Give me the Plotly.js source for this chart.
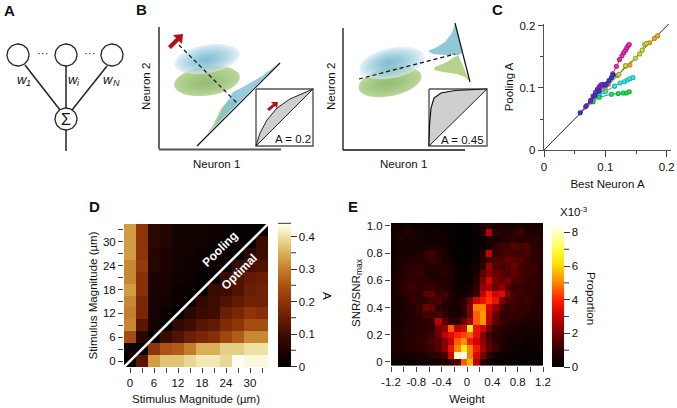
<!DOCTYPE html>
<html><head><meta charset="utf-8">
<script src="https://cdn.plot.ly/plotly-3.0.1.min.js"></script>
<style>html,body{margin:0;padding:0;background:#fff}#g{width:677px;height:408px}</style></head>
<body><div id="g"></div>
<script>
const W=677,H=408,FONT='"Liberation Sans",Arial,sans-serif';
// ---- Panel C
const cOrangeX=[.08,.10,.12,.133,.14,.172,.18,.185];
const cOrangeY=[.08,.10,.12,.135,.137,.173,.180,.184];
const cOliveX=[.078,.09,.105,.122,.133,.149,.156,.160,.164,.167];
const cOliveY=[.08,.09,.106,.122,.136,.148,.155,.161,.170,.172];
const cCyanX=[.076,.09,.1,.115,.124,.131,.136,.14,.145];
const cCyanY=[.078,.088,.094,.103,.108,.110,.113,.115,.117];
const cGreenX=[.07,.08,.09,.11,.121,.129,.134,.139];
const cGreenY=[.072,.078,.085,.09,.091,.092,.092,.094];
const cMagentaX=[.076,.103,.112,.118,.123,.127,.130,.133,.135,.137,.139];
const cMagentaY=[.078,.107,.123,.135,.146,.152,.157,.161,.165,.168,.170];
const cBlueX=[.059,.083,.09,.1,.106,.11,.113];
const cBlueY=[.06,.088,.095,.105,.112,.117,.121];
const cPurpleX=[.068,.076,.08,.084,.087,.09,.093,.096];
const cPurpleY=[.07,.08,.087,.093,.098,.102,.105,.106];
const cDiagonal=[0,.207];
// ---- Panel D
const dTicks=[0,3,6,9,12,15,18,21,24,27,30,33];
const dValues=[
[0,.13,.33,.37,.37,.39,.41,.41,.39,.44,.43,.43],
[.03,0,.20,.25,.26,.30,.35,.35,.38,.38,.40,.40],
[.24,.07,0,.09,.12,.15,.17,.19,.23,.26,.31,.31],
[.31,.13,.03,0,.08,.10,.13,.14,.18,.20,.24,.24],
[.30,.17,.04,.02,0,.07,.09,.10,.15,.17,.20,.19],
[.31,.17,.04,.035,.02,0,.08,.10,.12,.14,.16,.16],
[.33,.19,.05,.04,.015,.015,0,.09,.10,.12,.15,.16],
[.31,.19,.05,.04,.025,.02,.01,0,.09,.12,.14,.15],
[.31,.21,.06,.05,.03,.025,.02,.015,0,.09,.11,.12],
[.33,.20,.06,.05,.03,.03,.02,.015,.015,0,.07,.10],
[.33,.20,.07,.06,.03,.03,.03,.02,.015,.015,0,.09],
[.33,.20,.07,.06,.03,.03,.03,.02,.02,.01,.01,0]];
const dBarLabels=[0,.1,.2,.3,.4];
const dBarMinor=[.05,.15,.25,.35];
// ---- Panel E
const eWeights=[-1.15,-1.05,-.95,-.85,-.75,-.65,-.55,-.45,-.35,-.25,-.15,-.05,.05,.15,.25,.35,.45,.55,.65,.75,.85,.95,1.05,1.15];
const eSnr=[0,.05,.1,.15,.2,.25,.3,.35,.4,.45,.5,.55,.6,.65,.7,.75,.8,.85,.9,.95,1];
const eValues=[
[.2,.2,.2,.2,.3,.3,.3,.4,.6,1.0,1.6,4.6,5.6,2.8,.9,.4,.2,.2,.1,.1,.1,.1,.1,.2],
[.5,.4,.4,.5,.6,.6,.9,1.0,1.3,3.2,8.0,8.4,5.0,3.3,2.0,1.0,.4,.3,.2,.2,.2,.1,.2,.2],
[.5,.6,.7,.8,.9,1.0,1.2,1.6,2.2,3.6,5.0,6.4,5.0,3.8,2.6,1.6,1.2,.5,.4,.3,.3,.2,.3,.3],
[.5,.6,.7,.9,1.0,1.1,1.4,1.6,2.2,3.1,4.6,5.2,3.8,3.2,2.3,1.5,.9,.8,.5,.4,.4,.3,.3,.4],
[.6,.6,.8,.7,.9,1.0,1.2,1.8,3.0,3.4,4.0,4.3,4.7,3.6,2.2,1.2,.9,.8,.6,.5,.5,.4,.4,.4],
[.5,.6,.7,.8,.9,.9,1.0,2.0,2.4,4.6,2.8,3.2,6.3,3.6,3.2,1.9,1.1,.8,.8,.6,.5,.5,.4,.5],
[.4,.6,.7,.7,.9,.8,1.1,2.9,1.5,1.0,1.0,1.8,2.6,4.6,5.2,2.8,1.6,1.2,1.0,.9,.7,.6,.6,.7],
[.4,.5,.6,.8,1.0,1.4,1.2,1.3,1.0,.6,.5,.9,2.0,4.6,5.3,3.0,1.8,1.0,1.1,1.0,1.1,.8,.7,.8],
[.5,.6,.8,.6,1.1,1.8,1.7,1.0,.7,.5,.4,1.0,2.2,5.0,5.0,3.2,2.4,1.4,1.0,1.2,1.0,1.1,.9,.8],
[.4,.5,.8,1.1,.9,.9,1.3,1.4,.9,.7,.5,.8,1.8,3.2,3.6,4.2,3.6,2.0,1.4,1.3,1.0,1.2,.9,.8],
[.5,.8,1.0,.9,1.0,1.6,1.7,1.1,1.3,.8,.3,.3,.5,1.2,3.0,4.0,3.2,3.4,2.0,1.3,1.2,1.1,1.0,1.0],
[.6,.8,1.1,1.2,1.0,1.1,1.1,.9,.8,.6,.3,.2,.4,1.0,2.4,2.6,1.8,2.4,1.6,1.0,1.2,1.0,1.1,1.0],
[.6,.7,1.0,1.1,.9,1.0,.8,.7,.7,.5,.2,.2,.2,.8,2.0,3.2,2.0,1.8,2.0,1.4,1.3,1.1,1.0,.9],
[.4,.7,.9,1.0,1.1,.8,.6,.7,.9,.6,.3,.2,.2,.6,1.6,2.2,1.8,1.6,1.4,1.6,1.3,1.2,1.1,1.0],
[.4,.6,.9,.8,1.0,.7,.7,.8,.8,.5,.2,.1,.2,.5,1.0,2.4,1.6,1.3,1.5,1.8,1.3,1.2,1.2,.9],
[.3,.6,.7,.8,.6,.9,1.2,1.0,.5,.4,.1,.1,.1,.3,.9,1.2,1.4,1.4,1.7,1.5,1.5,1.1,1.0,.9],
[.3,.4,.5,.5,.7,1.0,1.3,.8,.5,.3,.1,.1,.1,.2,.8,3.0,1.0,1.2,1.4,1.3,1.2,1.4,1.0,.9],
[.3,.4,.4,.5,.4,.5,.6,.5,.4,.2,.1,.1,.1,.1,.2,.4,.9,1.3,1.2,1.5,1.3,1.4,1.0,.8],
[.3,.6,.5,.5,.4,.4,.3,.4,.3,.2,.1,.1,.1,.2,.3,.6,.6,.7,.8,1.0,.8,.8,.9,.8],
[.3,.5,.8,.5,.4,.3,.4,.4,.3,.2,.1,.1,.1,.2,.7,2.8,.9,.7,.7,1.0,1.2,.7,.6,.7],
[.2,.3,.5,.3,.3,.2,.3,.2,.2,.2,.1,.1,.1,.3,.8,.9,.6,.6,.4,.5,.7,.4,.5,.4]];
const eBarLabels=[0,2,4,6,8];
const eBarMinor=[1,3,5,7];
// ---- Schematics (A, B): page-scale geometry
const netCircles=[[18,55],[66,55],[112,55],[66,119]];
const netLines=[[[25,65],[60,110]],[[66,66],[66,108]],[[107,66],[72,110]],[[66,130],[66,151]]];
const blobs=[[207,81,33,14.5,-8,'175,208,140','105,150,55',.9,.032,205,83],[207,59,33,14,-10,'212,232,242','65,160,195',.7,.062,206,60],
             [390,82,32,14,-12,'175,208,140','105,150,55',.9,.032,386,84],[392,63,33,15,-12,'212,232,242','65,160,195',.7,.062,389,63]];
const wedgeBlueL=[[208,133],[215,125],[222,110],[227,102],[233,92],[243,87],[253,81],[262,76],[270,70],[279,63]];
const wedgeGreenL=[[206,135],[212,127],[217,117],[222,107],[227,102],[232,100],[237,103]];
const wedgeBlueR=[[455,23],[452,33],[445,42],[437,47],[428,51],[433,54],[445,55],[458,55],[462,53]];
const wedgeGreenR=[[458,55],[447,62],[435,67],[434,70],[443,72],[457,74],[465,77],[470,82]];
const rocLeft=[[256,146],[260,133],[267,120],[277,108],[290,99],[303,93],[313,89]];
const rocRight=[[429,146],[429.5,125],[431,108],[434,98],[441,93],[455,90.5],[487,89]];
const arrowBig=[[168,46],[176,38],[173,35],[183,34],[182,44],[179,41],[171,49]];
const arrowSmall=[[267,109],[273,104],[271,102],[278,102],[277,108],[275,106],[269,111]];

const traces=[];
const line=(pts,color,width,dash)=>traces.push({x:pts.map(p=>p[0]),y:pts.map(p=>p[1]),mode:'lines',line:{color,width,dash:dash||'solid'},hoverinfo:'skip',showlegend:false});
const poly=(pts,fill,lc,lw)=>traces.push({x:pts.map(p=>p[0]),y:pts.map(p=>p[1]),mode:'lines',fill:'toself',fillcolor:fill,line:{color:lc||'rgba(0,0,0,0)',width:lw||0},hoverinfo:'skip',showlegend:false});
const ring=(cx,cy,r)=>{const p=[];for(let i=0;i<=48;i++){const t=i/48*2*Math.PI;p.push([cx+r*Math.cos(t),cy+r*Math.sin(t)]);}return p;};

// Gaussian-looking blobs: stacked translucent ellipses
const shapes=[];
blobs.forEach(b=>{
  const [cx,cy,a,bb,rot,edge,core,ea,ca,ccx,ccy]=b,N=14,th=rot*Math.PI/180;
  for(let k=0;k<N;k++){
    const s=1-k/N, ox=cx+(ccx-cx)*(1-s), oy=cy+(ccy-cy)*(1-s);
    let d='';
    for(let i=0;i<=40;i++){const t=i/40*2*Math.PI,u=a*s*Math.cos(t),v=bb*s*Math.sin(t);
      d+=(i?'L':'M')+(ox+u*Math.cos(th)-v*Math.sin(th)).toFixed(1)+','+(oy+u*Math.sin(th)+v*Math.cos(th)).toFixed(1);}
    shapes.push({type:'path',path:d+'Z',xref:'x',yref:'y',layer:'below',line:{width:0},fillcolor:k===0?`rgba(${edge},${ea})`:`rgba(${core},${ca})`});
  }
});

// Panel A
netLines.forEach(l=>line(l,'#222',1.5));
netCircles.forEach(c=>poly(ring(c[0],c[1],11),'#fff','#222',1.3));
// Panel B left
line([[159,27],[159,149]],'#111',1.3);
line([[159,149.5],[281,149.5]],'#555',2);
poly(wedgeGreenL,'rgba(175,205,125,.85)');
poly(wedgeBlueL,'rgba(125,190,210,.8)');
line([[197,146],[280,63]],'#111',1.2);
line([[179,45],[237,103]],'#111',1.2,'4px,3px');
poly(arrowBig,'#b01015');
poly([[256,89],[313,89],[313,146],[256,146],[256,89]],'#fff','#555',1.4);
poly(rocLeft,'#cfcfcf','#222',1);
line([[256,146],[313,89]],'#222',1);
poly(arrowSmall,'#b01015');
// Panel B right
line([[343,28],[343,150]],'#111',1.3);
line([[343,150],[465,150]],'#111',1.3);
poly(wedgeGreenR,'rgba(175,205,125,.9)');
poly(wedgeBlueR,'rgba(125,190,210,.85)');
line([[455,23],[470,82]],'#111',1.2);
line([[359,79],[455,54]],'#111',1.2,'4px,3px');
poly([[429,89],[487,89],[487,146],[429,146],[429,89]],'#fff','#555',1.4);
poly(rocRight,'#cfcfcf','#111',1.2);
line([[429,146],[487,89]],'#222',1);

// Panel C
const cs=(x,y,color,edge)=>traces.push({x,y,xaxis:'x2',yaxis:'y2',mode:'lines+markers',line:{color:edge,width:1},
  marker:{color,size:4,line:{color:edge,width:1.1}},showlegend:false,hoverinfo:'skip',cliponaxis:false});
traces.push({x:cDiagonal,y:cDiagonal,xaxis:'x2',yaxis:'y2',mode:'lines',line:{color:'#222',width:1},showlegend:false,hoverinfo:'skip'});
cs(cOrangeX,cOrangeY,'#e8aa40','#c98a10');
cs(cOliveX,cOliveY,'#d8dc70','#9aa81a');
cs(cCyanX,cCyanY,'#50e0e0','#12b8c0');
cs(cGreenX,cGreenY,'#30d860','#10b040');
cs(cMagentaX,cMagentaY,'#e03ab0','#c01890');
cs(cPurpleX,cPurpleY,'#8a28c8','#7018b0');
cs(cBlueX,cBlueY,'#3040c0','#2030b0');

// Panel D
const barFont={size:11.5,family:FONT,color:'#111'};
traces.push({type:'heatmap',x:dTicks,y:dTicks,z:dValues,xaxis:'x3',yaxis:'y3',zmin:0,zmax:.44,zsmooth:false,hoverinfo:'skip',
 colorscale:[[0,'#000'],[.11,'#1c0300'],[.23,'#3f0c00'],[.35,'#6d1f04'],[.46,'#8f3508'],[.57,'#ab5312'],[.68,'#c47d2a'],[.78,'#d6a94f'],[.88,'#e8d68c'],[.95,'#f6f0c4'],[1,'#fffff4']],
 colorbar:{x:278/W,xanchor:'left',y:(H-366.5)/H,yanchor:'bottom',lenmode:'pixels',len:143,thicknessmode:'pixels',thickness:13,xpad:0,ypad:0,outlinewidth:0,
  tickmode:'array',tickvals:dBarLabels,ticktext:dBarLabels.map(String),ticks:'outside',ticklen:6,tickcolor:'#333',tickfont:barFont}});
traces.push({x:[-1.5,34.5],y:[-1.5,34.5],xaxis:'x3',yaxis:'y3',mode:'lines',line:{color:'#fff',width:2.5},showlegend:false,hoverinfo:'skip'});
line([[278,223.3],[291,223.3]],'#333',1);
dBarMinor.forEach(v=>line([[291,366.5-v/.44*143],[296,366.5-v/.44*143]],'#333',1));

// Panel E
traces.push({type:'heatmap',x:eWeights,y:eSnr,z:eValues,xaxis:'x4',yaxis:'y4',zmin:0,zmax:8.5,zsmooth:false,hoverinfo:'skip',
 colorscale:[[0,'#000'],[.12,'#300000'],[.24,'#7a0000'],[.36,'#c80000'],[.47,'#ff2000'],[.6,'#ff8c00'],[.72,'#ffe000'],[.82,'#ffff40'],[.92,'#ffffb0'],[1,'#fff']],
 colorbar:{x:552/W,xanchor:'left',y:(H-367)/H,yanchor:'bottom',lenmode:'pixels',len:143,thicknessmode:'pixels',thickness:12,xpad:0,ypad:0,outlinewidth:0,
  tickmode:'array',tickvals:eBarLabels,ticktext:eBarLabels.map(String),ticks:'outside',ticklen:6,tickcolor:'#333',tickfont:barFont}});
eBarMinor.forEach(v=>line([[564,367-v/8.5*143],[569,367-v/8.5*143]],'#333',1));

const ann=(text,x,y,o)=>Object.assign({text,x,y,xref:'x',yref:'y',showarrow:false,xanchor:'center',yanchor:'middle',font:{family:FONT,size:11.5,color:'#111'}},o||{});
const big={font:{family:FONT,size:15,color:'#111',weight:700}};
const it={font:{family:FONT,size:13,color:'#111',style:'italic'}};
const itSub={font:{family:FONT,size:9,color:'#111',style:'italic'}};
const small={font:{family:FONT,size:8,color:'#111'}};
const annotations=[
 ann('A',9,10,big),ann('B',141,9,big),ann('C',497,9,big),ann('D',94,206,big),ann('E',353,206,big),
 ann('···',43,53),ann('···',90,53),ann('Σ',66,119,{font:{family:FONT,size:16,color:'#111'}}),
 ann('w',22,79,it),ann('1',28,83,itSub),ann('w',73,79,it),ann('i',78,83,itSub),ann('w',108,79,it),ann('N',116,83,itSub),
 ann('Neuron 2',146,87,{textangle:-90}),ann('Neuron 1',216,164),ann('A = 0.2',293,139),
 ann('Neuron 2',331,87,{textangle:-90}),ann('Neuron 1',403,164),ann('A = 0.45',462,140),
 ann('Pooling',220,249,{textangle:-45,font:{family:FONT,size:12,color:'#fff',weight:700}}),
 ann('Optimal',239,272,{textangle:-45,font:{family:FONT,size:12,color:'#fff',weight:700}}),
 ann('A',327,296,{textangle:90}),
 ann('Proportion',591,298,{textangle:90}),
 ann('X10',570,212),ann('-3',584,209,small),
 ann('SNR/SNR',356,301,{textangle:-90}),ann('max',359,267,{textangle:-90,font:{family:FONT,size:8.5,color:'#111'}}),
];
const tf={family:FONT,size:11.5,color:'#111'};
const ax=(domL,domR,range,o)=>Object.assign({domain:[domL/W,domR/W],range,showgrid:false,zeroline:false,showline:true,linecolor:'#555',linewidth:1.3,ticks:'outside',ticklen:5,tickcolor:'#444',tickfont:tf,tickwidth:1},o);
const ay=(top,bot,range,o)=>Object.assign({domain:[(H-bot)/H,(H-top)/H],range,showgrid:false,zeroline:false,showline:true,linecolor:'#555',linewidth:1.3,ticks:'outside',ticklen:5,tickcolor:'#444',tickfont:tf,tickwidth:1},o);
const layout={width:W,height:H,margin:{l:0,r:0,t:0,b:0},paper_bgcolor:'#fff',plot_bgcolor:'rgba(0,0,0,0)',font:{family:FONT,size:11.5,color:'#111'},showlegend:false,
 xaxis:{domain:[0,1],range:[0,W],visible:false,fixedrange:true},
 yaxis:{domain:[0,1],range:[H,0],visible:false,fixedrange:true},
 xaxis2:ax(544,671,[0,.207],{anchor:'y2',ticklen:6,tickvals:[0,.1,.2],ticktext:['0','0.1','0.2'],minor:{tickvals:[.05,.15],ticks:'outside',ticklen:3,tickcolor:'#444'},title:{text:'Best Neuron A',font:tf,standoff:8}}),
 yaxis2:ay(24,150,[0,.2032],{anchor:'x2',tickvals:[0,.1,.2],ticktext:['0','0.1','0.2'],minor:{tickvals:[.05,.15],ticks:'outside',ticklen:3,tickcolor:'#444'},title:{text:'Pooling A',font:tf,standoff:3}}),
 xaxis3:ax(124,268,[-1.5,34.5],{anchor:'y3',showline:false,tickvals:[0,6,12,18,24,30],minor:{tickvals:[3,9,15,21,27,33],ticks:'outside',ticklen:5,tickcolor:'#444'},title:{text:'Stimulus Magnitude (µm)',font:tf,standoff:7}}),
 yaxis3:ay(224,367,[-1.5,34.5],{anchor:'x3',showline:false,tickvals:[0,6,12,18,24,30],minor:{tickvals:[3,9,15,21,27,33],ticks:'outside',ticklen:5,tickcolor:'#444'},title:{text:'Stimulus Magnitude (µm)',font:tf,standoff:2}}),
 xaxis4:ax(391,543,[-1.2,1.2],{anchor:'y4',showline:false,tickvals:[-1.2,-.8,-.4,0,.4,.8,1.2],ticktext:['-1.2','-0.8','-0.4','0','0.4','0.8','1.2'],minor:{tickvals:[-1,-.6,-.2,.2,.6,1],ticks:'outside',ticklen:5,tickcolor:'#444'},title:{text:'Weight',font:tf,standoff:8}}),
 yaxis4:ay(223,366,[-.03,1.022],{anchor:'x4',showline:false,tickvals:[0,.2,.4,.6,.8,1],ticktext:['0','0.2','0.4','0.6','0.8','1.0']}),
 annotations,shapes};
Plotly.newPlot('g',traces,layout,{staticPlot:true,displayModeBar:false});
</script></body></html>
